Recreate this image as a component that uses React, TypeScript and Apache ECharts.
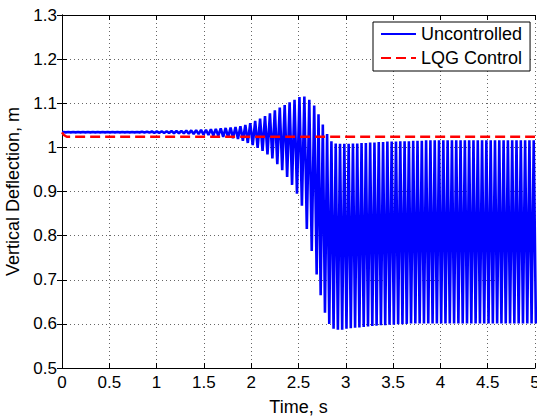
import React, { useEffect, useRef } from "react";
import * as echarts from "echarts";

// Oscillation: one peak and one trough per cycle.
const firstPeakTime = 0.014;
const periodEarly = 0.052; // s, cycles before ~2.67 s
const periodLate = 0.0455; // s, cycles after ~2.67 s

const upperEarly = [
  1.035, 1.035, 1.035, 1.035, 1.035, 1.035, 1.035, 1.035, 1.035, 1.035,
  1.035, 1.035, 1.035, 1.035, 1.035, 1.035, 1.0355, 1.0355, 1.036, 1.036,
  1.0365, 1.0365, 1.037, 1.037, 1.0375, 1.038, 1.0385, 1.039, 1.0395, 1.04,
  1.041, 1.042, 1.043, 1.044, 1.045, 1.046, 1.048, 1.051, 1.055, 1.06,
  1.065, 1.071, 1.077, 1.084, 1.09, 1.096, 1.102, 1.108, 1.114, 1.115,
  1.108, 1.095,
];
const lowerEarly = [
  1.034, 1.034, 1.034, 1.034, 1.034, 1.034, 1.034, 1.034, 1.034, 1.034,
  1.034, 1.034, 1.034, 1.034, 1.034, 1.034, 1.0335, 1.0335, 1.033, 1.033,
  1.0325, 1.0325, 1.032, 1.032, 1.0315, 1.031, 1.0305, 1.03, 1.029, 1.028,
  1.027, 1.026, 1.024, 1.022, 1.021, 1.019, 1.015, 1.01, 1.005, 0.999,
  0.992, 0.984, 0.975, 0.962, 0.948, 0.933, 0.915, 0.895, 0.868, 0.815,
  0.765, 0.712,
];
const upperLate = [
  1.075, 1.052, 1.03, 1.014, 1.009, 1.008, 1.008, 1.008, 1.009, 1.009,
  1.01, 1.01, 1.011, 1.011, 1.012, 1.012, 1.013, 1.013, 1.013, 1.014,
  1.014, 1.014, 1.015, 1.015, 1.015, 1.016, 1.016, 1.016, 1.016, 1.016,
  1.016, 1.016, 1.016, 1.016, 1.016, 1.016, 1.016, 1.016, 1.016, 1.016,
  1.016, 1.016, 1.016, 1.016, 1.016, 1.016, 1.016, 1.016, 1.016, 1.016,
  1.016,
];
const lowerLate = [
  0.665, 0.625, 0.6, 0.589, 0.587, 0.587, 0.589, 0.59, 0.591, 0.592,
  0.593, 0.594, 0.595, 0.596, 0.597, 0.597, 0.598, 0.598, 0.599, 0.599,
  0.6, 0.601, 0.601, 0.601, 0.601, 0.601, 0.601, 0.601, 0.601, 0.601,
  0.601, 0.601, 0.601, 0.601, 0.601, 0.601, 0.601, 0.601, 0.601, 0.601,
  0.601, 0.601, 0.601, 0.601, 0.601, 0.601, 0.601, 0.601, 0.601, 0.601,
  0.601,
];
const uncontrolledStart = 1.035;

const lqgTimes = [0, 0.02, 0.05, 5];
const lqgValues = [1.034, 1.028, 1.024, 1.024];

const xTicks = [0, 5, 0.5];
const yTicks = [0.5, 1.3, 0.1];

function buildUncontrolled(): [number, number][] {
  const pts: [number, number][] = [[0, uncontrolledStart]];
  let t = firstPeakTime;
  for (let k = 0; k < upperEarly.length; k++) {
    t = firstPeakTime + k * periodEarly;
    pts.push([t, upperEarly[k]]);
    pts.push([t + periodEarly / 2, lowerEarly[k]]);
  }
  const base = t;
  for (let j = 0; j < upperLate.length; j++) {
    const tp = base + (j + 1) * periodLate;
    pts.push([tp, upperLate[j]]);
    pts.push([tp + periodLate / 2, lowerLate[j]]);
  }
  return pts;
}

export default function App() {
  const ref = useRef<HTMLDivElement>(null);
  useEffect(() => {
    if (!ref.current) return;
    const chart = echarts.init(ref.current, null, { renderer: "svg" });
    const font = "Liberation Sans, Arial, Helvetica, sans-serif";
    const blue = buildUncontrolled();
    const red = lqgTimes.map((t, i) => [t, lqgValues[i]]);
    const axisLine = { show: true, lineStyle: { color: "#000", width: 1 } };
    const tick = { show: true, inside: true, length: 5, lineStyle: { color: "#000" } };
    chart.setOption({
      animation: false,
      backgroundColor: "#fff",
      grid: {
        left: 62,
        right: 2,
        top: 15,
        bottom: 52,
        containLabel: false,
        outerBoundsMode: "none",
      },
      legend: {
        orient: "vertical",
        left: 373,
        top: 22,
        padding: [3, 8, 4, 7],
        itemWidth: 35,
        itemHeight: 14,
        itemGap: 6,
        backgroundColor: "#fff",
        borderColor: "#000",
        borderWidth: 1,
        borderRadius: 0,
        itemStyle: { opacity: 0 },
        textStyle: { fontFamily: font, fontSize: 18, color: "#000" },
        data: ["Uncontrolled", "LQG Control"],
      },
      xAxis: [
        {
          type: "value",
          min: xTicks[0],
          max: xTicks[1],
          interval: xTicks[2],
          position: "bottom",
          name: "Time, s",
          nameLocation: "middle",
          nameGap: 30,
          nameTextStyle: { fontFamily: font, fontSize: 18, color: "#000" },
          axisLine,
          axisTick: tick,
          axisLabel: { fontFamily: font, fontSize: 17, color: "#000", margin: 6 },
          splitLine: { show: true, lineStyle: { color: "#666", type: [1, 3], width: 1 } },
        },
        {
          type: "value",
          min: xTicks[0],
          max: xTicks[1],
          interval: xTicks[2],
          position: "top",
          axisLine,
          axisTick: tick,
          axisLabel: { show: false },
          splitLine: { show: false },
        },
      ],
      yAxis: [
        {
          type: "value",
          min: yTicks[0],
          max: yTicks[1],
          interval: yTicks[2],
          position: "left",
          name: "Vertical Deflection, m",
          nameLocation: "middle",
          nameGap: 37,
          nameTextStyle: { fontFamily: font, fontSize: 18, color: "#000" },
          axisLine,
          axisTick: tick,
          axisLabel: {
            fontFamily: font,
            fontSize: 17,
            color: "#000",
            margin: 5,
            formatter: (v: number) => String(parseFloat(v.toFixed(2))),
          },
          splitLine: { show: true, lineStyle: { color: "#666", type: [1, 3], width: 1 } },
        },
        {
          type: "value",
          min: yTicks[0],
          max: yTicks[1],
          interval: yTicks[2],
          position: "right",
          axisLine,
          axisTick: tick,
          axisLabel: { show: false },
          splitLine: { show: false },
        },
      ],
      series: [
        {
          name: "Uncontrolled",
          type: "line",
          data: blue,
          symbol: "none",
          clip: true,
          lineStyle: { color: "#0000ff", width: 2.6 },
          itemStyle: { color: "#0000ff", opacity: 0 },
        },
        {
          name: "LQG Control",
          type: "line",
          data: red,
          symbol: "none",
          clip: true,
          lineStyle: { color: "#ff0000", width: 2.5, type: [10, 5] },
          itemStyle: { color: "#ff0000", opacity: 0 },
        },
      ],
    });
    return () => chart.dispose();
  }, []);
  return <div ref={ref} style={{ width: 537, height: 420, position: "absolute", left: 0, top: 0 }} />;
}
